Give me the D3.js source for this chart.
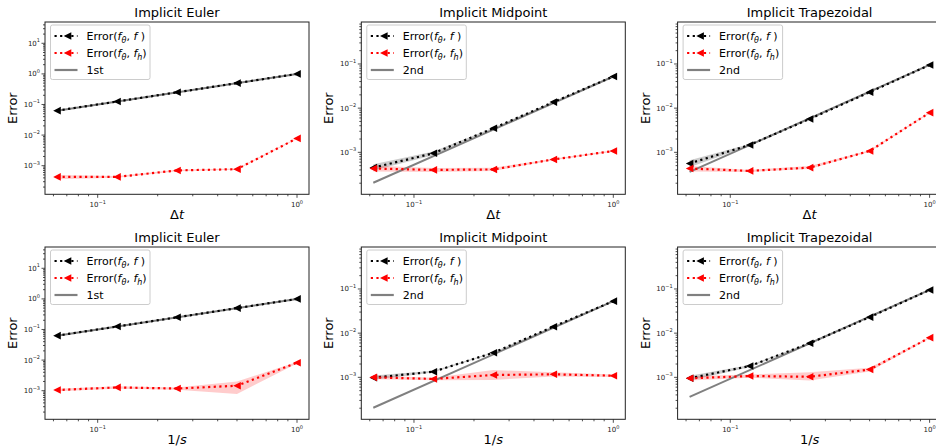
<!DOCTYPE html>
<html>
<head>
<meta charset="utf-8">
<script src="https://cdn.jsdelivr.net/npm/d3@7"></script>
<style>
  body { margin: 0; background: #fff; }
  svg { display: block; font-family: "DejaVu Sans", sans-serif; }
</style>
</head>
<body>
<svg id="chart" width="936" height="447"></svg>
<script>
// step sizes (Δt, and 1/s on the bottom row)
var steps = [0.0625, 0.125, 0.25, 0.5, 1];
var titles = ["Implicit Euler", "Implicit Midpoint", "Implicit Trapezoidal"];
var orderNames = ["1st", "2nd", "2nd"];

// top row: error against Δt  (Euler, Midpoint, Trapezoidal)
var dtErrF = [
    [0.063, 0.125, 0.25, 0.5, 1.0],
    [4.5e-4, 9.5e-4, 3.5e-3, 0.0137, 0.052],
    [5.6e-4, 1.47e-3, 5.7e-3, 0.023, 0.095]
];
var dtErrFLo = [
    [0.061, 0.122, 0.245, 0.49, 0.98],
    [3.9e-4, 8.6e-4, 3.4e-3, 0.0134, 0.051],
    [4.6e-4, 1.4e-3, 5.55e-3, 0.0226, 0.093]
];
var dtErrFHi = [
    [0.065, 0.128, 0.255, 0.51, 1.02],
    [5.4e-4, 1.05e-3, 3.6e-3, 0.014, 0.053],
    [6.6e-4, 1.55e-3, 5.85e-3, 0.0234, 0.097]
];
var dtErrFh = [
    [4.3e-4, 4.3e-4, 7.0e-4, 7.7e-4, 7.8e-3],
    [4.3e-4, 4.0e-4, 4.1e-4, 6.9e-4, 1.07e-3],
    [4.3e-4, 3.8e-4, 4.5e-4, 1.07e-3, 7.9e-3]
];
var dtErrFhLo = [
    [3.6e-4, 4.0e-4, 6.6e-4, 7.3e-4, 7.5e-3],
    [3.7e-4, 3.6e-4, 3.8e-4, 6.6e-4, 1.03e-3],
    [3.7e-4, 3.6e-4, 4.2e-4, 1.03e-3, 7.6e-3]
];
var dtErrFhHi = [
    [5.0e-4, 4.6e-4, 7.4e-4, 8.1e-4, 8.1e-3],
    [5.0e-4, 4.4e-4, 4.5e-4, 7.2e-4, 1.11e-3],
    [4.9e-4, 4.0e-4, 4.9e-4, 1.11e-3, 8.2e-3]
];
var dtRef = [[0.0625, 1.0], [2.05e-4, 0.052], [3.6e-4, 0.095]];

// bottom row: error against 1/s
var sErrF = [
    [0.063, 0.125, 0.25, 0.5, 1.0],
    [9.8e-4, 1.34e-3, 3.6e-3, 0.014, 0.053],
    [9.5e-4, 1.8e-3, 5.9e-3, 0.023, 0.095]
];
var sErrFLo = [
    [0.061, 0.122, 0.245, 0.49, 0.98],
    [8.8e-4, 1.28e-3, 3.5e-3, 0.0137, 0.052],
    [8.5e-4, 1.7e-3, 5.75e-3, 0.0226, 0.093]
];
var sErrFHi = [
    [0.065, 0.128, 0.255, 0.51, 1.02],
    [1.1e-3, 1.4e-3, 3.7e-3, 0.0143, 0.054],
    [1.08e-3, 1.9e-3, 6.05e-3, 0.0234, 0.097]
];
var sErrFh = [
    [1.05e-3, 1.28e-3, 1.18e-3, 1.45e-3, 8.2e-3],
    [1.0e-3, 9.2e-4, 1.13e-3, 1.17e-3, 1.09e-3],
    [9.5e-4, 1.07e-3, 1.03e-3, 1.5e-3, 7.9e-3]
];
var sErrFhLo = [
    [9.6e-4, 1.15e-3, 1.08e-3, 7.8e-4, 7.8e-3],
    [9.0e-4, 8.6e-4, 8.7e-4, 1.05e-3, 1.02e-3],
    [8.5e-4, 9.8e-4, 8.5e-4, 1.35e-3, 7.6e-3]
];
var sErrFhHi = [
    [1.15e-3, 1.4e-3, 1.28e-3, 2.0e-3, 8.6e-3],
    [1.1e-3, 9.8e-4, 1.46e-3, 1.3e-3, 1.16e-3],
    [1.06e-3, 1.16e-3, 1.3e-3, 1.65e-3, 8.2e-3]
];
var sRef = [[0.0625, 1.0], [2.05e-4, 0.053], [3.6e-4, 0.095]];

var xDomain = [Math.pow(10, -1.2643), Math.pow(10, 0.0602)];
var yDomains = [
    [Math.pow(10, -3.935), Math.pow(10, 1.696)],
    [Math.pow(10, -3.95), Math.pow(10, -0.05)],
    [Math.pow(10, -3.95), Math.pow(10, -0.05)]
];

var panelW = 264, panelH = 172.3;
var lefts = [45, 361.3, 677.6];
var tops = [22, 247];

var svg = d3.select("#chart");
var tri = "M-3.8,0L3.8,-3.8L3.8,3.8Z";

function sup(text, base, exp) {
    text.append("tspan").text(base);
    text.append("tspan").attr("dy", -3.5).attr("font-size", "5px").text(exp);
}

function richText(text, parts) {
    parts.forEach(function (p) {
        var t = text.append("tspan").text(p.t);
        if (p.i) t.attr("font-style", "italic");
        if (p.dy) t.attr("dy", p.dy);
        if (p.fs) t.attr("font-size", p.fs);
    });
}

function expLabel(k) {
    return k < 0 ? "\u2212" + (-k) : "" + k;
}

function drawPanel(col, row) {
    var g = svg.append("g").attr("transform", "translate(" + lefts[col] + "," + tops[row] + ")");
    var x = d3.scaleLog().domain(xDomain).range([0, panelW]);
    var y = d3.scaleLog().domain(yDomains[col]).range([panelH, 0]);

    var errF = row == 0 ? dtErrF[col] : sErrF[col];
    var errFLo = row == 0 ? dtErrFLo[col] : sErrFLo[col];
    var errFHi = row == 0 ? dtErrFHi[col] : sErrFHi[col];
    var errFh = row == 0 ? dtErrFh[col] : sErrFh[col];
    var errFhLo = row == 0 ? dtErrFhLo[col] : sErrFhLo[col];
    var errFhHi = row == 0 ? dtErrFhHi[col] : sErrFhHi[col];
    var ref = row == 0 ? dtRef[col] : sRef[col];

    var clip = "clip" + col + row;
    g.append("clipPath").attr("id", clip).append("rect")
        .attr("width", panelW).attr("height", panelH);
    var plot = g.append("g").attr("clip-path", "url(#" + clip + ")");

    var area = d3.area()
        .x(function (d, i) { return x(steps[i]); })
        .y0(function (d) { return y(d[0]); })
        .y1(function (d) { return y(d[1]); });
    var line = d3.line()
        .x(function (d, i) { return x(steps[i]); })
        .y(function (d) { return y(d); });

    plot.append("path").datum(errFLo.map(function (v, i) { return [v, errFHi[i]]; }))
        .attr("d", area).attr("fill", "#000").attr("fill-opacity", 0.2);
    plot.append("path").datum(errFhLo.map(function (v, i) { return [v, errFhHi[i]]; }))
        .attr("d", area).attr("fill", "#ff0000").attr("fill-opacity", 0.2);

    // reference order line
    plot.append("line")
        .attr("x1", x(steps[0])).attr("x2", x(steps[steps.length - 1]))
        .attr("y1", y(ref[0])).attr("y2", y(ref[1]))
        .attr("stroke", "#808080").attr("stroke-width", 2);

    [[errF, "#000"], [errFh, "#ff0000"]].forEach(function (s) {
        plot.append("path").datum(s[0]).attr("d", line)
            .attr("fill", "none").attr("stroke", s[1]).attr("stroke-width", 2.2)
            .attr("stroke-dasharray", "2.2,3.4");
        plot.selectAll(null).data(s[0]).enter().append("path")
            .attr("d", tri).attr("fill", s[1])
            .attr("transform", function (d, i) { return "translate(" + x(steps[i]) + "," + y(d) + ")"; });
    });

    // frame
    g.append("rect").attr("width", panelW).attr("height", panelH)
        .attr("fill", "none").attr("stroke", "#222").attr("stroke-width", 1);

    // x ticks
    var xMinor = [0.06, 0.07, 0.08, 0.09, 0.2, 0.3, 0.4, 0.5, 0.6, 0.7, 0.8, 0.9];
    xMinor.forEach(function (v) {
        g.append("line").attr("x1", x(v)).attr("x2", x(v)).attr("y1", panelH).attr("y2", panelH + 2)
            .attr("stroke", "#222").attr("stroke-width", 0.8);
    });
    [[0.1, -1], [1, 0]].forEach(function (t) {
        g.append("line").attr("x1", x(t[0])).attr("x2", x(t[0])).attr("y1", panelH).attr("y2", panelH + 3.5)
            .attr("stroke", "#222").attr("stroke-width", 0.8);
        var txt = g.append("text").attr("x", x(t[0])).attr("y", panelH + 13)
            .attr("text-anchor", "middle").attr("font-size", "7px").attr("fill", "#222");
        sup(txt, "10", expLabel(t[1]));
    });

    // y ticks
    var dom = yDomains[col];
    var kLo = Math.floor(Math.log10(dom[0])), kHi = Math.ceil(Math.log10(dom[1]));
    for (var k = kLo; k <= kHi; k++) {
        for (var m = 1; m < 10; m++) {
            var v = m * Math.pow(10, k);
            if (v < dom[0] || v > dom[1]) continue;
            var len = m == 1 ? 3.5 : 2;
            g.append("line").attr("x1", -len).attr("x2", 0).attr("y1", y(v)).attr("y2", y(v))
                .attr("stroke", "#222").attr("stroke-width", 0.8);
            if (m == 1) {
                var txt = g.append("text").attr("x", -5).attr("y", y(v) + 2.5)
                    .attr("text-anchor", "end").attr("font-size", "7px").attr("fill", "#222");
                sup(txt, "10", expLabel(k));
            }
        }
    }

    // title and axis labels
    g.append("text").attr("x", panelW / 2).attr("y", -5).attr("text-anchor", "middle")
        .attr("font-size", "13px").text(titles[col]);
    g.append("text").attr("transform", "translate(-28," + (panelH / 2) + ") rotate(-90)")
        .attr("text-anchor", "middle").attr("font-size", "13px").text("Error");
    var xl = g.append("text").attr("x", panelW / 2).attr("y", panelH + 25)
        .attr("text-anchor", "middle").attr("font-size", "13px");
    if (row == 0) richText(xl, [{ t: "\u0394" }, { t: "t", i: true }]);
    else richText(xl, [{ t: "1/" }, { t: "s", i: true }]);

    // legend
    var lg = g.append("g").attr("transform", "translate(5.5,3)");
    lg.append("rect").attr("width", 99.5).attr("height", 54.5).attr("rx", 2)
        .attr("fill", "#fff").attr("fill-opacity", 0.8).attr("stroke", "#ccc").attr("stroke-width", 1);
    var entries = [
        { color: "#000", marker: true, parts: [{ t: "Error(" }, { t: "f", i: true }, { t: "\u03b8", i: true, dy: 3, fs: "8px" }, { t: ", ", dy: -3 }, { t: "f", i: true }, { t: " )" }] },
        { color: "#ff0000", marker: true, parts: [{ t: "Error(" }, { t: "f", i: true }, { t: "\u03b8", i: true, dy: 3, fs: "8px" }, { t: ", ", dy: -3 }, { t: "f", i: true }, { t: "h", i: true, dy: 3, fs: "8px" }, { t: ")", dy: -3 }] },
        { color: "#808080", marker: false, parts: [{ t: orderNames[col] }] }
    ];
    entries.forEach(function (e, i) {
        var yy = 11 + i * 17;
        var ln = lg.append("line").attr("x1", 4).attr("x2", 27).attr("y1", yy).attr("y2", yy)
            .attr("stroke", e.color).attr("stroke-width", 2.2);
        if (e.marker) {
            ln.attr("stroke-dasharray", "2.2,3.4");
            lg.append("path").attr("d", tri).attr("fill", e.color)
                .attr("transform", "translate(17," + yy + ")");
        }
        var t = lg.append("text").attr("x", 36).attr("y", yy + 4).attr("font-size", "11px");
        richText(t, e.parts);
    });
}

for (var row = 0; row < 2; row++) {
    for (var col = 0; col < 3; col++) {
        drawPanel(col, row);
    }
}
</script>
</body>
</html>
